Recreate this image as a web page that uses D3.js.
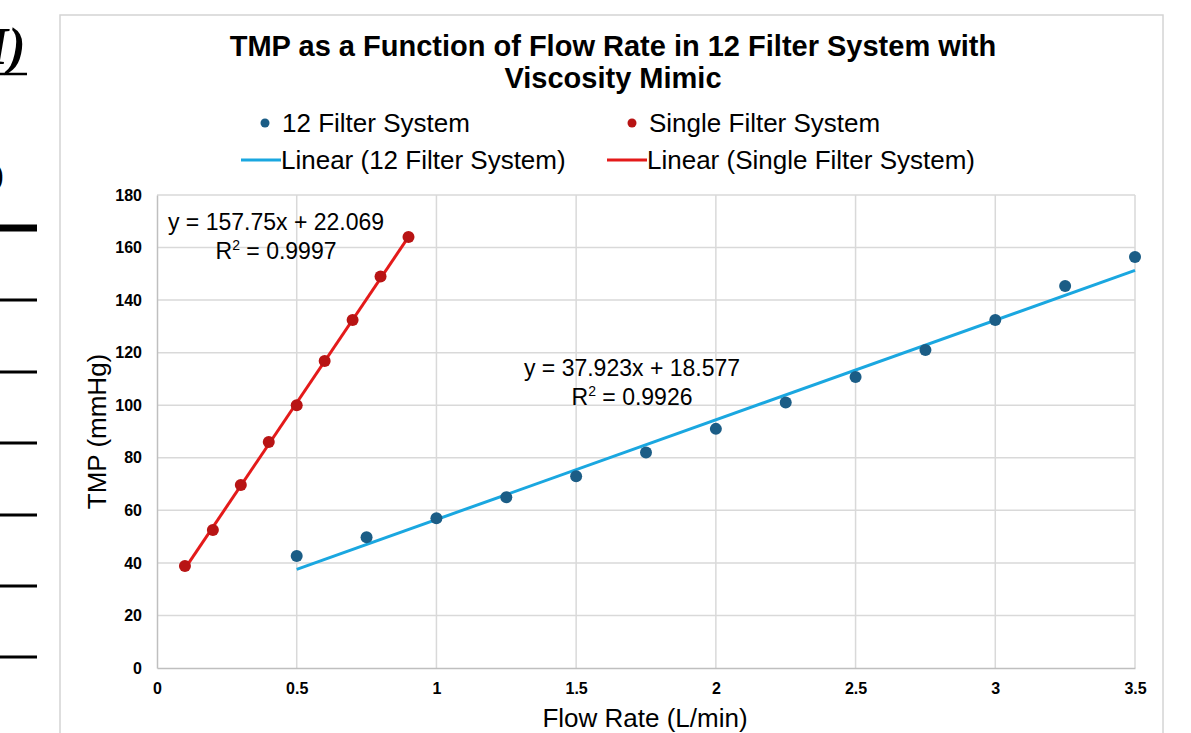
<!DOCTYPE html>
<html>
<head>
<meta charset="utf-8">
<script src="https://cdn.jsdelivr.net/npm/d3@7"></script>
<style>
  body { margin: 0; background: #fff; }
  svg { display: block; font-family: "Liberation Sans", Arial, sans-serif; }
</style>
</head>
<body>
<div id="chart"></div>
<script>
// Data
const xTicks = [0, 0.5, 1, 1.5, 2, 2.5, 3, 3.5];
const yTicks = [0, 20, 40, 60, 80, 100, 120, 140, 160, 180];

const singleX = [0.1, 0.2, 0.3, 0.4, 0.5, 0.6, 0.7, 0.8, 0.9];
const singleY = [38.8, 52.5, 69.6, 86, 100, 116.8, 132.4, 149, 164];

const twelveX = [0.5, 0.75, 1.0, 1.25, 1.5, 1.75, 2.0, 2.25, 2.5, 2.75, 3.0, 3.25, 3.5];
const twelveY = [42.6, 49.8, 57, 65, 73, 82, 91, 101, 110.7, 121, 132.4, 145.4, 156.4];

// trendline coefficients as printed on the chart
const singleFit = {slope: 157.75, intercept: 22.069, r2: "0.9997"};
const twelveFit = {slope: 37.923, intercept: 18.577, r2: "0.9926"};

const width = 1191;
const height = 733;
const margin = {top: 195, right: 56, bottom: 65, left: 157};

const svg = d3.select("#chart")
    .append("svg")
    .attr("width", width)
    .attr("height", height);

// bits of the cropped page on the left
svg.append("text")
    .attr("x", -12).attr("y", 64)
    .style("font-family", "'Liberation Serif', serif")
    .style("font-style", "italic").style("font-weight", "bold")
    .style("font-size", "52px")
    .text("I)");
svg.append("line")
    .attr("x1", 0).attr("x2", 27).attr("y1", 74).attr("y2", 74)
    .attr("stroke", "#000").attr("stroke-width", 2.5);
svg.append("text")
    .attr("x", -7).attr("y", 185)
    .style("font-family", "'Liberation Serif', serif")
    .style("font-weight", "bold")
    .style("font-size", "32px")
    .text(")");
[228, 300, 372, 443, 515, 586, 657].forEach((y, i) => {
    svg.append("line")
        .attr("x1", 0).attr("x2", 37).attr("y1", y).attr("y2", y)
        .attr("stroke", "#000").attr("stroke-width", i === 0 ? 7 : 3);
});

// chart frame
svg.append("rect")
    .attr("x", 60).attr("y", 15)
    .attr("width", 1103).attr("height", 740)
    .attr("fill", "none")
    .attr("stroke", "#d4d4d4")
    .attr("stroke-width", 1.5);

const x = d3.scaleLinear()
    .domain([0, 3.5])
    .range([margin.left, width - margin.right]);

const y = d3.scaleLinear()
    .domain([0, 180])
    .range([height - margin.bottom, margin.top]);

// gridlines
svg.append("g")
    .selectAll("line")
    .data(yTicks.slice(1))
    .join("line")
    .attr("x1", x(0)).attr("x2", x(3.5))
    .attr("y1", d => y(d)).attr("y2", d => y(d))
    .attr("stroke", "#d9d9d9").attr("stroke-width", 1.5);

svg.append("g")
    .selectAll("line")
    .data(xTicks.slice(1))
    .join("line")
    .attr("x1", d => x(d)).attr("x2", d => x(d))
    .attr("y1", y(0)).attr("y2", y(180))
    .attr("stroke", "#d9d9d9").attr("stroke-width", 1.5);

// axes
const xAxis = svg.append("g")
    .attr("transform", `translate(0,${y(0)})`)
    .call(d3.axisBottom(x).tickValues(xTicks).tickSize(0).tickPadding(15).tickFormat(d3.format("")));
const yAxis = svg.append("g")
    .attr("transform", `translate(${x(0)},0)`)
    .call(d3.axisLeft(y).tickValues(yTicks).tickSize(0).tickPadding(15));

[xAxis, yAxis].forEach(a => {
    a.select(".domain").attr("stroke", "#bfbfbf").attr("stroke-width", 1.5);
    a.selectAll("text")
        .style("font-size", "16px")
        .style("font-weight", "bold")
        .style("font-family", "'Liberation Sans', Arial, sans-serif")
        .attr("fill", "#000");
});

// trendlines
const lineGen = d3.line().x(d => x(d[0])).y(d => y(d[1]));
function fitPoints(xs, fit) {
    const ext = d3.extent(xs);
    return ext.map(v => [v, fit.slope * v + fit.intercept]);
}

svg.append("path")
    .datum(fitPoints(twelveX, twelveFit))
    .attr("fill", "none")
    .attr("stroke", "#1aa7e0")
    .attr("stroke-width", 3)
    .attr("d", lineGen);

svg.append("path")
    .datum(fitPoints(singleX, singleFit))
    .attr("fill", "none")
    .attr("stroke", "#e41a1a")
    .attr("stroke-width", 3)
    .attr("d", lineGen);

// points
svg.append("g")
    .selectAll("circle")
    .data(twelveX.map((v, i) => [v, twelveY[i]]))
    .join("circle")
    .attr("cx", d => x(d[0]))
    .attr("cy", d => y(d[1]))
    .attr("r", 6)
    .attr("fill", "#1b5d86");

svg.append("g")
    .selectAll("circle")
    .data(singleX.map((v, i) => [v, singleY[i]]))
    .join("circle")
    .attr("cx", d => x(d[0]))
    .attr("cy", d => y(d[1]))
    .attr("r", 6)
    .attr("fill", "#b81414");

// equation labels
function equation(cx, cy, fit) {
    svg.append("text")
        .attr("x", cx).attr("y", cy)
        .attr("text-anchor", "middle")
        .style("font-size", "23px")
        .text(`y = ${fit.slope}x + ${fit.intercept}`);
    const r = svg.append("text")
        .attr("x", cx).attr("y", cy + 29)
        .attr("text-anchor", "middle")
        .style("font-size", "23px");
    r.append("tspan").text("R");
    r.append("tspan").attr("dy", -9).style("font-size", "14px").text("2");
    r.append("tspan").attr("dy", 9).text(" = " + fit.r2);
}
equation(276, 230, singleFit);
equation(632, 376, twelveFit);

// title
svg.append("text")
    .attr("x", 613).attr("y", 56)
    .attr("text-anchor", "middle")
    .style("font-size", "29px").style("font-weight", "bold")
    .text("TMP as a Function of Flow Rate in 12 Filter System with");
svg.append("text")
    .attr("x", 613).attr("y", 88)
    .attr("text-anchor", "middle")
    .style("font-size", "29px").style("font-weight", "bold")
    .text("Viscosity Mimic");

// legend
const legendItems = [
    {type: "dot", color: "#1b5d86", label: "12 Filter System", x: 265, y: 123},
    {type: "dot", color: "#b81414", label: "Single Filter System", x: 632, y: 123},
    {type: "line", color: "#1aa7e0", label: "Linear (12 Filter System)", x: 261, y: 160},
    {type: "line", color: "#e41a1a", label: "Linear (Single Filter System)", x: 627, y: 160}
];
legendItems.forEach(d => {
    if (d.type === "dot") {
        svg.append("circle").attr("cx", d.x).attr("cy", d.y).attr("r", 4.5).attr("fill", d.color);
    } else {
        svg.append("line")
            .attr("x1", d.x - 20).attr("x2", d.x + 20)
            .attr("y1", d.y).attr("y2", d.y)
            .attr("stroke", d.color).attr("stroke-width", 3);
    }
    svg.append("text")
        .attr("x", d.type === "dot" ? d.x + 17 : d.x + 20)
        .attr("y", d.y + 9)
        .style("font-size", "26px")
        .text(d.label);
});

// axis titles
svg.append("text")
    .attr("x", 645).attr("y", 727)
    .attr("text-anchor", "middle")
    .style("font-size", "26px")
    .text("Flow Rate (L/min)");

svg.append("text")
    .attr("transform", `translate(106,${(y(0) + y(180)) / 2}) rotate(-90)`)
    .attr("text-anchor", "middle")
    .style("font-size", "26px")
    .text("TMP (mmHg)");
</script>
</body>
</html>
